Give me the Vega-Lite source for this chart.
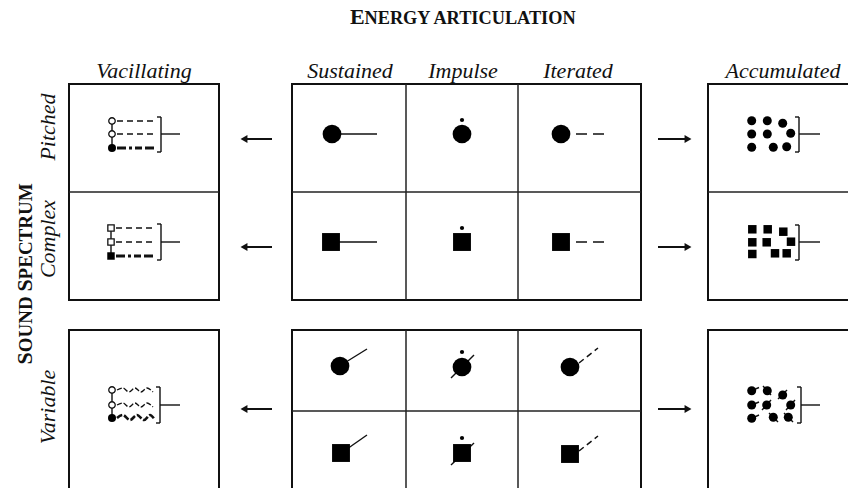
{
  "$schema": "https://vega.github.io/schema/vega-lite/v6.json",
  "width": 848,
  "height": 488,
  "autosize": {"type": "none"},
  "padding": 0,
  "background": "white",
  "config": {"view": {"stroke": null}},
  "datasets": {
    "boxes": [
      {"x": 69, "x2": 219, "y": 84, "y2": 300},
      {"x": 292, "x2": 641, "y": 84, "y2": 300},
      {"x": 708, "x2": 870, "y": 84, "y2": 300},
      {"x": 69, "x2": 219, "y": 330, "y2": 520},
      {"x": 292, "x2": 641, "y": 330, "y2": 520},
      {"x": 708, "x2": 870, "y": 330, "y2": 520}
    ],
    "dividers": [
      {"x": 69, "x2": 219, "y": 192, "y2": 192},
      {"x": 292, "x2": 641, "y": 192, "y2": 192},
      {"x": 708, "x2": 870, "y": 192, "y2": 192},
      {"x": 292, "x2": 641, "y": 411, "y2": 411},
      {"x": 406, "x2": 406, "y": 84, "y2": 300},
      {"x": 518, "x2": 518, "y": 84, "y2": 300},
      {"x": 406, "x2": 406, "y": 330, "y2": 520},
      {"x": 518, "x2": 518, "y": 330, "y2": 520}
    ],
    "thin": [
      {"x": 332, "y": 134, "x2": 377, "y2": 134},
      {"x": 331, "y": 242, "x2": 377, "y2": 242},
      {"x": 346, "y": 362, "x2": 367, "y2": 349},
      {"x": 451, "y": 378, "x2": 474, "y2": 355},
      {"x": 347, "y": 449, "x2": 367, "y2": 435},
      {"x": 451, "y": 465, "x2": 474, "y2": 443},
      {"x": 112, "y": 121, "x2": 112, "y2": 148},
      {"x": 111, "y": 228, "x2": 111, "y2": 256},
      {"x": 112, "y": 390, "x2": 112, "y2": 418},
      {"x": 161, "y": 117, "x2": 161, "y2": 152},
      {"x": 157, "y": 117, "x2": 161, "y2": 117},
      {"x": 157, "y": 152, "x2": 161, "y2": 152},
      {"x": 161, "y": 134, "x2": 180, "y2": 134},
      {"x": 161, "y": 224, "x2": 161, "y2": 260},
      {"x": 157, "y": 224, "x2": 161, "y2": 224},
      {"x": 157, "y": 260, "x2": 161, "y2": 260},
      {"x": 161, "y": 242, "x2": 180, "y2": 242},
      {"x": 160, "y": 387, "x2": 160, "y2": 423},
      {"x": 156, "y": 387, "x2": 160, "y2": 387},
      {"x": 156, "y": 423, "x2": 160, "y2": 423},
      {"x": 160, "y": 405, "x2": 180, "y2": 405},
      {"x": 799, "y": 117, "x2": 799, "y2": 152},
      {"x": 795, "y": 117, "x2": 799, "y2": 117},
      {"x": 795, "y": 152, "x2": 799, "y2": 152},
      {"x": 799, "y": 134, "x2": 820, "y2": 134},
      {"x": 799, "y": 225, "x2": 799, "y2": 260},
      {"x": 795, "y": 225, "x2": 799, "y2": 225},
      {"x": 795, "y": 260, "x2": 799, "y2": 260},
      {"x": 799, "y": 242, "x2": 820, "y2": 242},
      {"x": 801, "y": 387, "x2": 801, "y2": 423},
      {"x": 797, "y": 387, "x2": 801, "y2": 387},
      {"x": 797, "y": 423, "x2": 801, "y2": 423},
      {"x": 801, "y": 405, "x2": 820, "y2": 405},
      {"x": 751.7, "y": 390.7, "x2": 759, "y2": 387.5},
      {"x": 751.7, "y": 405, "x2": 759, "y2": 402},
      {"x": 751.7, "y": 418.3, "x2": 759, "y2": 415},
      {"x": 763, "y": 386, "x2": 771, "y2": 395},
      {"x": 762, "y": 410, "x2": 771, "y2": 400},
      {"x": 769, "y": 413, "x2": 778, "y2": 422},
      {"x": 778, "y": 399, "x2": 787, "y2": 390},
      {"x": 786, "y": 410, "x2": 795, "y2": 400},
      {"x": 784, "y": 413, "x2": 793, "y2": 422}
    ],
    "arrows": [
      {"x": 246, "y": 139, "x2": 272, "y2": 139},
      {"x": 246, "y": 247, "x2": 272, "y2": 247},
      {"x": 246, "y": 409, "x2": 272, "y2": 409},
      {"x": 658, "y": 139, "x2": 686, "y2": 139},
      {"x": 658, "y": 247, "x2": 686, "y2": 247},
      {"x": 658, "y": 409, "x2": 686, "y2": 409}
    ],
    "headsLeft": [{"x": 244, "y": 139}, {"x": 244, "y": 247}, {"x": 244, "y": 409}],
    "headsRight": [{"x": 688, "y": 139}, {"x": 688, "y": 247}, {"x": 688, "y": 409}],
    "dashLong": [
      {"x": 576, "y": 134, "x2": 606, "y2": 134},
      {"x": 576, "y": 242, "x2": 606, "y2": 242}
    ],
    "dashDiag": [
      {"x": 579, "y": 363, "x2": 598, "y2": 348},
      {"x": 579, "y": 451, "x2": 598, "y2": 436}
    ],
    "dashVac": [
      {"x": 117, "y": 121, "x2": 155, "y2": 121},
      {"x": 117, "y": 134, "x2": 155, "y2": 134},
      {"x": 116, "y": 228, "x2": 155, "y2": 228},
      {"x": 116, "y": 242, "x2": 155, "y2": 242}
    ],
    "dashVacThick": [
      {"x": 117, "y": 148, "x2": 155, "y2": 148},
      {"x": 116, "y": 256, "x2": 155, "y2": 256}
    ],
    "waves": [
      {"row": "a", "x": 117, "y": 390}, {"row": "a", "x": 123, "y": 388}, {"row": "a", "x": 129, "y": 392}, {"row": "a", "x": 135, "y": 388}, {"row": "a", "x": 141, "y": 392}, {"row": "a", "x": 147, "y": 388}, {"row": "a", "x": 153, "y": 392},
      {"row": "b", "x": 117, "y": 405}, {"row": "b", "x": 123, "y": 403}, {"row": "b", "x": 129, "y": 407}, {"row": "b", "x": 135, "y": 403}, {"row": "b", "x": 141, "y": 407}, {"row": "b", "x": 147, "y": 403}, {"row": "b", "x": 153, "y": 407}
    ],
    "wavesThick": [
      {"row": "c", "x": 117, "y": 418}, {"row": "c", "x": 123, "y": 415}, {"row": "c", "x": 130, "y": 420}, {"row": "c", "x": 137, "y": 415}, {"row": "c", "x": 144, "y": 420}, {"row": "c", "x": 150, "y": 415}, {"row": "c", "x": 155, "y": 420}
    ],
    "bigCircles": [
      {"x": 332, "y": 134}, {"x": 462, "y": 134}, {"x": 561, "y": 134},
      {"x": 340, "y": 366}, {"x": 462, "y": 367}, {"x": 570, "y": 367}
    ],
    "bigSquares": [
      {"x": 331, "y": 242}, {"x": 462, "y": 242}, {"x": 561, "y": 242},
      {"x": 341, "y": 453}, {"x": 462, "y": 453}, {"x": 570, "y": 454}
    ],
    "tinyDots": [{"x": 462, "y": 120}, {"x": 462, "y": 228}, {"x": 462, "y": 352}, {"x": 462, "y": 438}],
    "openCircles": [{"x": 112, "y": 121}, {"x": 112, "y": 134}, {"x": 112, "y": 390}, {"x": 112, "y": 405}],
    "fillCircles": [{"x": 112, "y": 148}, {"x": 112, "y": 418}],
    "openSquares": [{"x": 111, "y": 228}, {"x": 111, "y": 242}],
    "fillSquares": [{"x": 111, "y": 256}],
    "accCircles": [
      {"x": 751.7, "y": 120.7}, {"x": 767.3, "y": 120.7}, {"x": 782.7, "y": 123.3},
      {"x": 751.7, "y": 134}, {"x": 767.3, "y": 134}, {"x": 790.7, "y": 133.3},
      {"x": 751.7, "y": 147.3}, {"x": 773.3, "y": 147.3}, {"x": 786.7, "y": 146.7},
      {"x": 751.7, "y": 390.7}, {"x": 767.3, "y": 390.7}, {"x": 782.7, "y": 395},
      {"x": 751.7, "y": 405}, {"x": 766.7, "y": 405}, {"x": 790.7, "y": 405},
      {"x": 751.7, "y": 418.3}, {"x": 773.3, "y": 417.3}, {"x": 788.3, "y": 417.3}
    ],
    "accSquares": [
      {"x": 752.3, "y": 229.3}, {"x": 767.7, "y": 229.3}, {"x": 783.3, "y": 231.7},
      {"x": 752.3, "y": 242.3}, {"x": 766.7, "y": 242.3}, {"x": 791, "y": 241.7},
      {"x": 752.3, "y": 254}, {"x": 775, "y": 253.3}, {"x": 786.7, "y": 253.3}
    ],
    "titleBig": [{"x": 350, "y": 24, "t": "E"}],
    "titleSmall": [{"x": 364.5, "y": 24, "t": "NERGY ARTICULATION"}],
    "colLabels": [
      {"x": 144, "y": 78, "t": "Vacillating"},
      {"x": 350, "y": 78, "t": "Sustained"},
      {"x": 463, "y": 78, "t": "Impulse"},
      {"x": 578, "y": 78, "t": "Iterated"},
      {"x": 783, "y": 78, "t": "Accumulated"}
    ],
    "rowLabels": [
      {"x": 55, "y": 127, "t": "Pitched"},
      {"x": 55, "y": 239, "t": "Complex"},
      {"x": 55, "y": 407, "t": "Variable"}
    ],
    "sideBig": [{"x": 32, "y": 364.5, "t": "S"}, {"x": 32, "y": 291.6, "t": "S"}],
    "sideSmall": [{"x": 32, "y": 352.3, "t": "OUND"}, {"x": 32, "y": 279.4, "t": "PECTRUM"}]
  },
  "layer": [
    {
      "data": {"name": "boxes"},
      "mark": {"type": "rect", "filled": false, "stroke": "#111", "strokeWidth": 2},
      "encoding": {
        "x": {"field": "x", "type": "quantitative", "scale": {"domain": [0, 848], "nice": false, "zero": false}, "axis": null},
        "x2": {"field": "x2"},
        "y": {"field": "y", "type": "quantitative", "scale": {"domain": [0, 488], "reverse": true, "nice": false, "zero": false}, "axis": null},
        "y2": {"field": "y2"}
      }
    },
    {
      "data": {"name": "dividers"},
      "mark": {"type": "rule", "color": "#222", "strokeWidth": 1.5},
      "encoding": {
        "x": {"field": "x", "type": "quantitative", "scale": {"domain": [0, 848], "nice": false, "zero": false}, "axis": null},
        "x2": {"field": "x2"},
        "y": {"field": "y", "type": "quantitative", "scale": {"domain": [0, 488], "reverse": true, "nice": false, "zero": false}, "axis": null},
        "y2": {"field": "y2"}
      }
    },
    {
      "data": {"name": "thin"},
      "mark": {"type": "rule", "color": "#111", "strokeWidth": 1.4},
      "encoding": {
        "x": {"field": "x", "type": "quantitative", "scale": {"domain": [0, 848], "nice": false, "zero": false}, "axis": null},
        "x2": {"field": "x2"},
        "y": {"field": "y", "type": "quantitative", "scale": {"domain": [0, 488], "reverse": true, "nice": false, "zero": false}, "axis": null},
        "y2": {"field": "y2"}
      }
    },
    {
      "data": {"name": "arrows"},
      "mark": {"type": "rule", "color": "#111", "strokeWidth": 2},
      "encoding": {
        "x": {"field": "x", "type": "quantitative", "scale": {"domain": [0, 848], "nice": false, "zero": false}, "axis": null},
        "x2": {"field": "x2"},
        "y": {"field": "y", "type": "quantitative", "scale": {"domain": [0, 488], "reverse": true, "nice": false, "zero": false}, "axis": null},
        "y2": {"field": "y2"}
      }
    },
    {
      "data": {"name": "headsLeft"},
      "mark": {"type": "point", "shape": "triangle-left", "size": 64, "filled": true, "color": "#111", "opacity": 1, "strokeWidth": 0},
      "encoding": {
        "x": {"field": "x", "type": "quantitative", "scale": {"domain": [0, 848], "nice": false, "zero": false}, "axis": null},
        "y": {"field": "y", "type": "quantitative", "scale": {"domain": [0, 488], "reverse": true, "nice": false, "zero": false}, "axis": null}
      }
    },
    {
      "data": {"name": "headsRight"},
      "mark": {"type": "point", "shape": "triangle-right", "size": 64, "filled": true, "color": "#111", "opacity": 1, "strokeWidth": 0},
      "encoding": {
        "x": {"field": "x", "type": "quantitative", "scale": {"domain": [0, 848], "nice": false, "zero": false}, "axis": null},
        "y": {"field": "y", "type": "quantitative", "scale": {"domain": [0, 488], "reverse": true, "nice": false, "zero": false}, "axis": null}
      }
    },
    {
      "data": {"name": "dashLong"},
      "mark": {"type": "rule", "color": "#111", "strokeWidth": 1.5, "strokeDash": [11, 6]},
      "encoding": {
        "x": {"field": "x", "type": "quantitative", "scale": {"domain": [0, 848], "nice": false, "zero": false}, "axis": null},
        "x2": {"field": "x2"},
        "y": {"field": "y", "type": "quantitative", "scale": {"domain": [0, 488], "reverse": true, "nice": false, "zero": false}, "axis": null},
        "y2": {"field": "y2"}
      }
    },
    {
      "data": {"name": "dashDiag"},
      "mark": {"type": "rule", "color": "#111", "strokeWidth": 1.5, "strokeDash": [6, 4]},
      "encoding": {
        "x": {"field": "x", "type": "quantitative", "scale": {"domain": [0, 848], "nice": false, "zero": false}, "axis": null},
        "x2": {"field": "x2"},
        "y": {"field": "y", "type": "quantitative", "scale": {"domain": [0, 488], "reverse": true, "nice": false, "zero": false}, "axis": null},
        "y2": {"field": "y2"}
      }
    },
    {
      "data": {"name": "dashVac"},
      "mark": {"type": "rule", "color": "#111", "strokeWidth": 1.4, "strokeDash": [6, 4]},
      "encoding": {
        "x": {"field": "x", "type": "quantitative", "scale": {"domain": [0, 848], "nice": false, "zero": false}, "axis": null},
        "x2": {"field": "x2"},
        "y": {"field": "y", "type": "quantitative", "scale": {"domain": [0, 488], "reverse": true, "nice": false, "zero": false}, "axis": null},
        "y2": {"field": "y2"}
      }
    },
    {
      "data": {"name": "dashVacThick"},
      "mark": {"type": "rule", "color": "#111", "strokeWidth": 3, "strokeDash": [9, 3, 3, 3, 7, 3]},
      "encoding": {
        "x": {"field": "x", "type": "quantitative", "scale": {"domain": [0, 848], "nice": false, "zero": false}, "axis": null},
        "x2": {"field": "x2"},
        "y": {"field": "y", "type": "quantitative", "scale": {"domain": [0, 488], "reverse": true, "nice": false, "zero": false}, "axis": null},
        "y2": {"field": "y2"}
      }
    },
    {
      "data": {"name": "waves"},
      "mark": {"type": "line", "color": "#111", "strokeWidth": 1.3, "interpolate": "cardinal", "strokeDash": [5, 2]},
      "encoding": {
        "x": {"field": "x", "type": "quantitative", "scale": {"domain": [0, 848], "nice": false, "zero": false}, "axis": null},
        "y": {"field": "y", "type": "quantitative", "scale": {"domain": [0, 488], "reverse": true, "nice": false, "zero": false}, "axis": null},
        "detail": {"field": "row", "type": "nominal"}
      }
    },
    {
      "data": {"name": "wavesThick"},
      "mark": {"type": "line", "color": "#111", "strokeWidth": 2.6, "interpolate": "cardinal", "strokeDash": [6, 2]},
      "encoding": {
        "x": {"field": "x", "type": "quantitative", "scale": {"domain": [0, 848], "nice": false, "zero": false}, "axis": null},
        "y": {"field": "y", "type": "quantitative", "scale": {"domain": [0, 488], "reverse": true, "nice": false, "zero": false}, "axis": null},
        "detail": {"field": "row", "type": "nominal"}
      }
    },
    {
      "data": {"name": "bigCircles"},
      "mark": {"type": "point", "shape": "circle", "size": 350, "filled": true, "color": "#000", "opacity": 1, "strokeWidth": 0},
      "encoding": {
        "x": {"field": "x", "type": "quantitative", "scale": {"domain": [0, 848], "nice": false, "zero": false}, "axis": null},
        "y": {"field": "y", "type": "quantitative", "scale": {"domain": [0, 488], "reverse": true, "nice": false, "zero": false}, "axis": null}
      }
    },
    {
      "data": {"name": "bigSquares"},
      "mark": {"type": "point", "shape": "square", "size": 320, "filled": true, "color": "#000", "opacity": 1, "strokeWidth": 0},
      "encoding": {
        "x": {"field": "x", "type": "quantitative", "scale": {"domain": [0, 848], "nice": false, "zero": false}, "axis": null},
        "y": {"field": "y", "type": "quantitative", "scale": {"domain": [0, 488], "reverse": true, "nice": false, "zero": false}, "axis": null}
      }
    },
    {
      "data": {"name": "tinyDots"},
      "mark": {"type": "point", "shape": "circle", "size": 18, "filled": true, "color": "#000", "opacity": 1, "strokeWidth": 0},
      "encoding": {
        "x": {"field": "x", "type": "quantitative", "scale": {"domain": [0, 848], "nice": false, "zero": false}, "axis": null},
        "y": {"field": "y", "type": "quantitative", "scale": {"domain": [0, 488], "reverse": true, "nice": false, "zero": false}, "axis": null}
      }
    },
    {
      "data": {"name": "openCircles"},
      "mark": {"type": "point", "shape": "circle", "size": 42, "filled": false, "fill": "white", "fillOpacity": 1, "stroke": "#111", "strokeWidth": 1.3, "opacity": 1},
      "encoding": {
        "x": {"field": "x", "type": "quantitative", "scale": {"domain": [0, 848], "nice": false, "zero": false}, "axis": null},
        "y": {"field": "y", "type": "quantitative", "scale": {"domain": [0, 488], "reverse": true, "nice": false, "zero": false}, "axis": null}
      }
    },
    {
      "data": {"name": "fillCircles"},
      "mark": {"type": "point", "shape": "circle", "size": 64, "filled": true, "color": "#000", "opacity": 1, "strokeWidth": 0},
      "encoding": {
        "x": {"field": "x", "type": "quantitative", "scale": {"domain": [0, 848], "nice": false, "zero": false}, "axis": null},
        "y": {"field": "y", "type": "quantitative", "scale": {"domain": [0, 488], "reverse": true, "nice": false, "zero": false}, "axis": null}
      }
    },
    {
      "data": {"name": "openSquares"},
      "mark": {"type": "point", "shape": "square", "size": 40, "filled": false, "fill": "white", "fillOpacity": 1, "stroke": "#111", "strokeWidth": 1.3, "opacity": 1},
      "encoding": {
        "x": {"field": "x", "type": "quantitative", "scale": {"domain": [0, 848], "nice": false, "zero": false}, "axis": null},
        "y": {"field": "y", "type": "quantitative", "scale": {"domain": [0, 488], "reverse": true, "nice": false, "zero": false}, "axis": null}
      }
    },
    {
      "data": {"name": "fillSquares"},
      "mark": {"type": "point", "shape": "square", "size": 56, "filled": true, "color": "#000", "opacity": 1, "strokeWidth": 0},
      "encoding": {
        "x": {"field": "x", "type": "quantitative", "scale": {"domain": [0, 848], "nice": false, "zero": false}, "axis": null},
        "y": {"field": "y", "type": "quantitative", "scale": {"domain": [0, 488], "reverse": true, "nice": false, "zero": false}, "axis": null}
      }
    },
    {
      "data": {"name": "accCircles"},
      "mark": {"type": "point", "shape": "circle", "size": 81, "filled": true, "color": "#000", "opacity": 1, "strokeWidth": 0},
      "encoding": {
        "x": {"field": "x", "type": "quantitative", "scale": {"domain": [0, 848], "nice": false, "zero": false}, "axis": null},
        "y": {"field": "y", "type": "quantitative", "scale": {"domain": [0, 488], "reverse": true, "nice": false, "zero": false}, "axis": null}
      }
    },
    {
      "data": {"name": "accSquares"},
      "mark": {"type": "point", "shape": "square", "size": 72, "filled": true, "color": "#000", "opacity": 1, "strokeWidth": 0},
      "encoding": {
        "x": {"field": "x", "type": "quantitative", "scale": {"domain": [0, 848], "nice": false, "zero": false}, "axis": null},
        "y": {"field": "y", "type": "quantitative", "scale": {"domain": [0, 488], "reverse": true, "nice": false, "zero": false}, "axis": null}
      }
    },
    {
      "data": {"name": "titleBig"},
      "mark": {"type": "text", "font": "Liberation Serif", "fontWeight": "bold", "fontSize": 22, "align": "left", "baseline": "alphabetic", "color": "#111"},
      "encoding": {
        "x": {"field": "x", "type": "quantitative", "scale": {"domain": [0, 848], "nice": false, "zero": false}, "axis": null},
        "y": {"field": "y", "type": "quantitative", "scale": {"domain": [0, 488], "reverse": true, "nice": false, "zero": false}, "axis": null},
        "text": {"field": "t"}
      }
    },
    {
      "data": {"name": "titleSmall"},
      "mark": {"type": "text", "font": "Liberation Serif", "fontWeight": "bold", "fontSize": 18.3, "align": "left", "baseline": "alphabetic", "color": "#111"},
      "encoding": {
        "x": {"field": "x", "type": "quantitative", "scale": {"domain": [0, 848], "nice": false, "zero": false}, "axis": null},
        "y": {"field": "y", "type": "quantitative", "scale": {"domain": [0, 488], "reverse": true, "nice": false, "zero": false}, "axis": null},
        "text": {"field": "t"}
      }
    },
    {
      "data": {"name": "colLabels"},
      "mark": {"type": "text", "font": "Liberation Serif", "fontStyle": "italic", "fontSize": 22, "align": "center", "baseline": "alphabetic", "color": "#111"},
      "encoding": {
        "x": {"field": "x", "type": "quantitative", "scale": {"domain": [0, 848], "nice": false, "zero": false}, "axis": null},
        "y": {"field": "y", "type": "quantitative", "scale": {"domain": [0, 488], "reverse": true, "nice": false, "zero": false}, "axis": null},
        "text": {"field": "t"}
      }
    },
    {
      "data": {"name": "rowLabels"},
      "mark": {"type": "text", "font": "Liberation Serif", "fontStyle": "italic", "fontSize": 22, "align": "center", "baseline": "alphabetic", "angle": 270, "color": "#111"},
      "encoding": {
        "x": {"field": "x", "type": "quantitative", "scale": {"domain": [0, 848], "nice": false, "zero": false}, "axis": null},
        "y": {"field": "y", "type": "quantitative", "scale": {"domain": [0, 488], "reverse": true, "nice": false, "zero": false}, "axis": null},
        "text": {"field": "t"}
      }
    },
    {
      "data": {"name": "sideBig"},
      "mark": {"type": "text", "font": "Liberation Serif", "fontWeight": "bold", "fontSize": 22, "align": "left", "baseline": "alphabetic", "angle": 270, "color": "#111"},
      "encoding": {
        "x": {"field": "x", "type": "quantitative", "scale": {"domain": [0, 848], "nice": false, "zero": false}, "axis": null},
        "y": {"field": "y", "type": "quantitative", "scale": {"domain": [0, 488], "reverse": true, "nice": false, "zero": false}, "axis": null},
        "text": {"field": "t"}
      }
    },
    {
      "data": {"name": "sideSmall"},
      "mark": {"type": "text", "font": "Liberation Serif", "fontWeight": "bold", "fontSize": 19, "align": "left", "baseline": "alphabetic", "angle": 270, "color": "#111"},
      "encoding": {
        "x": {"field": "x", "type": "quantitative", "scale": {"domain": [0, 848], "nice": false, "zero": false}, "axis": null},
        "y": {"field": "y", "type": "quantitative", "scale": {"domain": [0, 488], "reverse": true, "nice": false, "zero": false}, "axis": null},
        "text": {"field": "t"}
      }
    }
  ]
}
